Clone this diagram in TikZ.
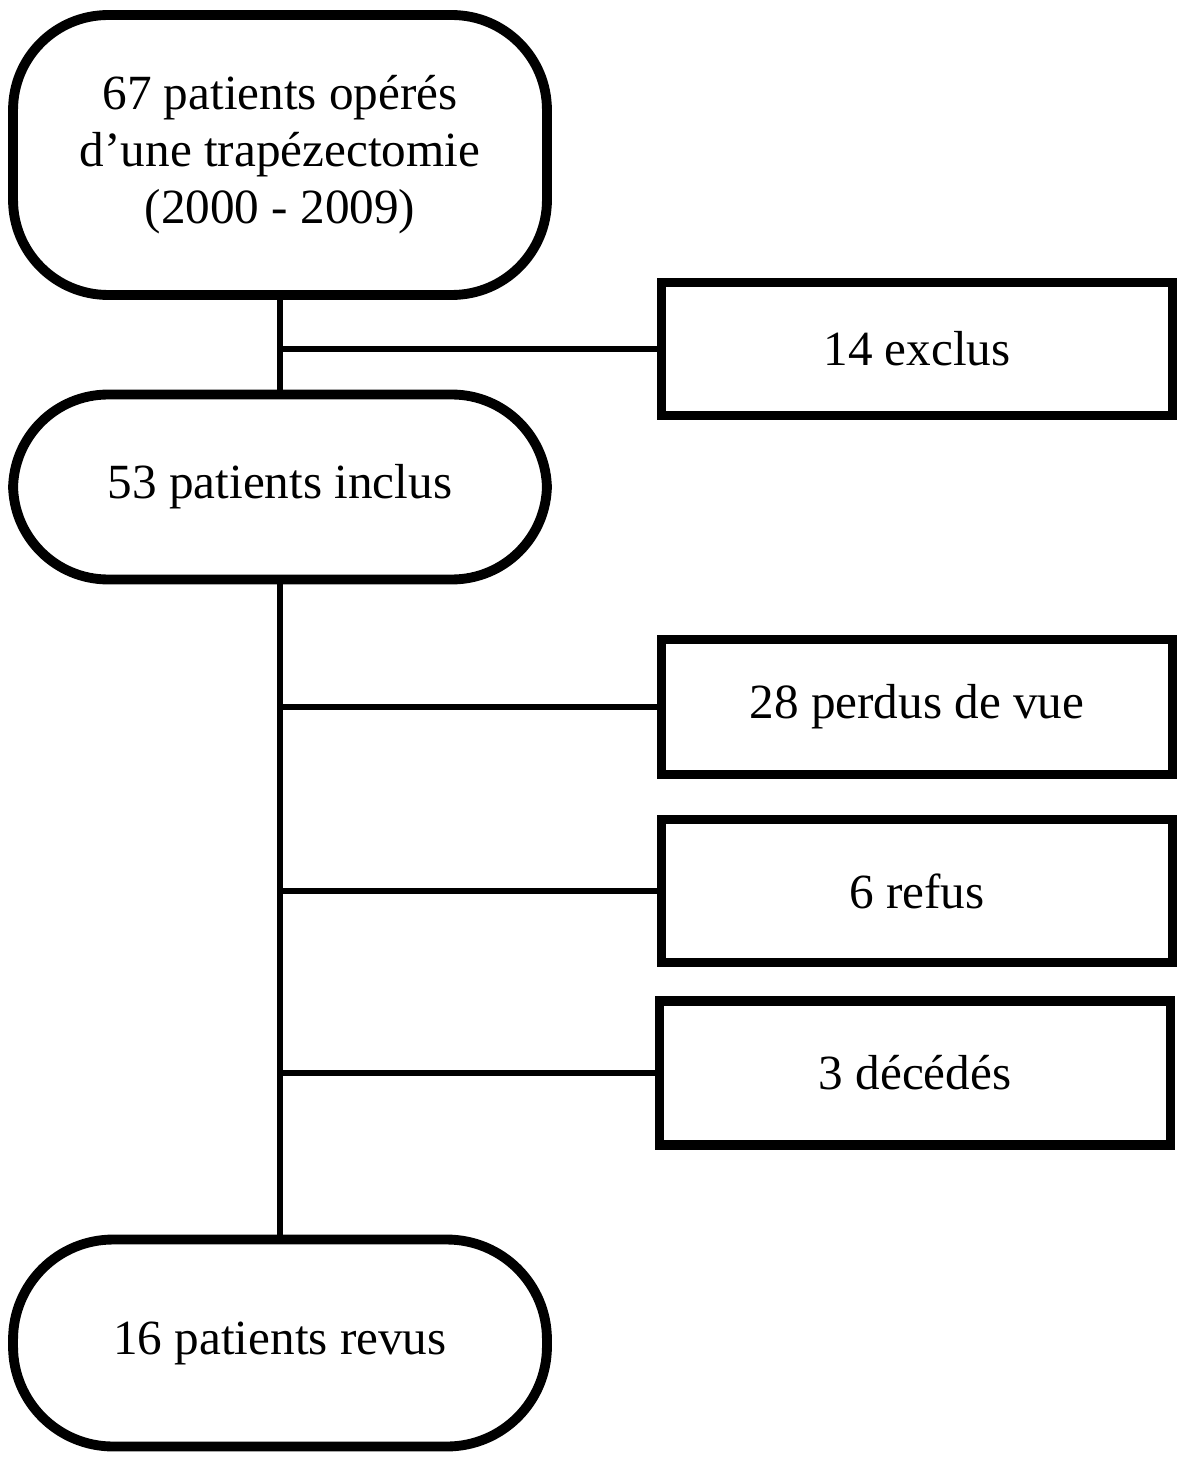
\documentclass[tikz,border=0pt]{standalone}
\usepackage{fontspec}
\setmainfont{Liberation Serif}
\usetikzlibrary{positioning, calc}

\begin{document}
\begin{tikzpicture}[x=0.02cm, y=-0.02cm, align=center]
\tikzstyle{stage}=[draw=black, line width=5.6pt, rounded corners=1.9cm, minimum width=10.68cm, inner sep=0pt]
\tikzstyle{lost}=[draw=black, line width=5.6pt, minimum width=10.22cm, inner sep=0pt]
\tikzstyle{link}=[-, line width=2.9pt]
\useasboundingbox (0,0) rectangle (1181,1459);
\fontsize{28pt}{32.5pt}\selectfont

\node[stage, minimum height=5.6cm] (op) at (280,155) {67 patients opérés\\d’une trapézectomie\\(2000 - 2009)};
\node[stage, minimum height=3.7cm] (inc) at (280,487) {53 patients inclus};
\node[stage, minimum height=4.14cm, rounded corners=2cm] (rev) at (280,1343) {16 patients revus};

\node[lost, minimum height=2.66cm] (excl) at (917,349) {14 exclus};
\node[lost, minimum height=2.7cm] (perdus) at (917,707) {28 perdus de vue};
\node[lost, minimum height=2.86cm] (refus) at (917,891) {6 refus};
\node[lost, minimum height=2.88cm] (dcd) at (915,1073) {3 décédés};

\path
  (op) edge [link] (inc)
  (inc) edge [link] (rev);
\draw[link] (op.south |- excl.west) -- (excl.west);
\draw[link] (inc.south |- perdus.west) -- (perdus.west);
\draw[link] (inc.south |- refus.west) -- (refus.west);
\draw[link] (inc.south |- dcd.west) -- (dcd.west);
\end{tikzpicture}
\end{document}
